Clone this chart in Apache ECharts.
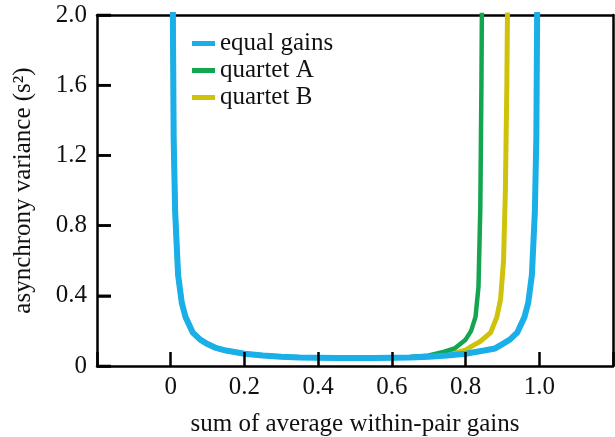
<!DOCTYPE html>
<html>
<head>
<meta charset="utf-8">
<script src="https://cdn.jsdelivr.net/npm/echarts@6/dist/echarts.min.js"></script>
<style>html,body{margin:0;padding:0;background:#fff}#c{width:615px;height:437px}</style>
</head>
<body>
<div id="c"></div>
<script>
// ---- data ----
const seriesNames = ['equal gains', 'quartet A', 'quartet B'];

const equalX = [0.004, 0.008, 0.012, 0.02, 0.03, 0.04, 0.06, 0.08, 0.1, 0.12, 0.15, 0.2, 0.25, 0.3, 0.35, 0.4, 0.45, 0.5, 0.55, 0.6, 0.65, 0.7, 0.75, 0.8, 0.85, 0.88, 0.9, 0.92, 0.94, 0.96, 0.97, 0.98, 0.988, 0.992, 0.996];
const equalY = [2.6, 1.3, 0.88, 0.52, 0.36, 0.28, 0.19, 0.15, 0.125, 0.105, 0.088, 0.07, 0.06, 0.053, 0.049, 0.047, 0.045, 0.045, 0.045, 0.047, 0.049, 0.053, 0.06, 0.07, 0.088, 0.1, 0.125, 0.15, 0.19, 0.28, 0.36, 0.52, 0.88, 1.3, 2.6];

const quartetAX = [0.004, 0.008, 0.012, 0.02, 0.03, 0.04, 0.06, 0.08, 0.1, 0.12, 0.15, 0.2, 0.25, 0.3, 0.35, 0.4, 0.45, 0.5, 0.55, 0.6, 0.65, 0.7, 0.74, 0.77, 0.8, 0.815, 0.827, 0.835, 0.84, 0.843, 0.846];
const quartetAY = [2.6, 1.3, 0.88, 0.52, 0.36, 0.28, 0.19, 0.15, 0.125, 0.105, 0.088, 0.07, 0.06, 0.053, 0.049, 0.047, 0.045, 0.045, 0.046, 0.048, 0.052, 0.06, 0.08, 0.1, 0.15, 0.2, 0.28, 0.45, 0.9, 1.6, 2.6];

const quartetBX = [0.004, 0.008, 0.012, 0.02, 0.03, 0.04, 0.06, 0.08, 0.1, 0.12, 0.15, 0.2, 0.25, 0.3, 0.35, 0.4, 0.45, 0.5, 0.55, 0.6, 0.65, 0.7, 0.75, 0.8, 0.815, 0.84, 0.868, 0.885, 0.895, 0.903, 0.908, 0.912, 0.916];
const quartetBY = [2.6, 1.3, 0.88, 0.52, 0.36, 0.28, 0.19, 0.15, 0.125, 0.105, 0.088, 0.07, 0.06, 0.053, 0.049, 0.047, 0.045, 0.045, 0.045, 0.047, 0.05, 0.055, 0.065, 0.09, 0.11, 0.14, 0.19, 0.28, 0.38, 0.6, 1.0, 1.6, 2.6];

const xTickValues = [0, 0.2, 0.4, 0.6, 0.8, 1.0];
const xTickLabels = ['0', '0.2', '0.4', '0.6', '0.8', '1.0'];
const yTickValues = [0, 0.4, 0.8, 1.2, 1.6, 2.0];
const yTickLabels = ['0', '0.4', '0.8', '1.2', '1.6', '2.0'];

const xName = 'sum of average within-pair gains';
const yName = 'asynchrony variance (s\u00B2)';

// ---- build ----
const X_MIN = -0.2, X_MAX = 1.2, Y_MIN = 0, Y_MAX = 2.0;
const pairs = (xs, ys) => xs.map((x, i) => [x, ys[i]]);
const font = 'Liberation Serif';
const colors = ['#1AAFE8', '#12A650', '#CEC20B'];
const labelFor = (vals, labels) => v => {
  const i = vals.findIndex(t => Math.abs(t - v) < 1e-9);
  return i < 0 ? '' : labels[i];
};
const borderAxis = {show: true, axisLine: {show: true, onZero: false, lineStyle: {color: '#000', width: 2.5}},
  axisTick: {show: false}, axisLabel: {show: false}, splitLine: {show: false}};
const tickStyle = {show: true, inside: true, length: 14, lineStyle: {color: '#000', width: 2.5}};

const chart = echarts.init(document.getElementById('c'), null, {renderer: 'canvas'});
chart.setOption({
  animation: false,
  backgroundColor: '#fff',
  grid: {left: 97, right: 2, top: 15, bottom: 71, show: false, containLabel: false, outerBoundsMode: 'none'},
  legend: {
    data: seriesNames,
    orient: 'vertical',
    left: 192, top: 31, padding: 0,
    icon: 'rect', itemWidth: 23, itemHeight: 5, itemGap: 2, itemTextGap: 11,
    textStyle: {fontFamily: font, fontSize: 25, color: '#111'}
  },
  xAxis: [{
    type: 'value', position: 'bottom', min: X_MIN, max: X_MAX, interval: 0.2, z: 10,
    name: xName, nameLocation: 'middle', nameGap: 46,
    nameTextStyle: {fontFamily: font, fontSize: 25, color: '#111'},
    axisLine: {show: true, onZero: false, lineStyle: {color: '#000', width: 2.5}},
    axisTick: tickStyle,
    axisLabel: {show: true, fontFamily: font, fontSize: 25, color: '#111', margin: 9,
      formatter: labelFor(xTickValues, xTickLabels)},
    splitLine: {show: false}
  }, Object.assign({type: 'value', position: 'top', min: X_MIN, max: X_MAX}, borderAxis)],
  yAxis: [{
    type: 'value', position: 'left', min: Y_MIN, max: Y_MAX, interval: 0.4, z: 10,
    name: yName, nameLocation: 'middle', nameGap: 61, nameRotate: 90,
    nameTextStyle: {fontFamily: font, fontSize: 25, color: '#111'},
    axisLine: {show: true, onZero: false, lineStyle: {color: '#000', width: 2.5}},
    axisTick: tickStyle,
    axisLabel: {show: true, fontFamily: font, fontSize: 25, color: '#111', margin: 10,
      formatter: labelFor(yTickValues, yTickLabels)},
    splitLine: {show: false}
  }, Object.assign({type: 'value', position: 'right', min: Y_MIN, max: Y_MAX}, borderAxis)],
  series: [
    {name: seriesNames[0], type: 'line', data: pairs(equalX, equalY), showSymbol: false, symbol: 'none', clip: true, z: 5,
      itemStyle: {color: colors[0]}, lineStyle: {color: colors[0], width: 6}},
    {name: seriesNames[1], type: 'line', data: pairs(quartetAX, quartetAY), showSymbol: false, symbol: 'none', clip: true, z: 4,
      itemStyle: {color: colors[1]}, lineStyle: {color: colors[1], width: 4.5}},
    {name: seriesNames[2], type: 'line', data: pairs(quartetBX, quartetBY), showSymbol: false, symbol: 'none', clip: true, z: 3,
      itemStyle: {color: colors[2]}, lineStyle: {color: colors[2], width: 5}},
    // inward y-axis tick marks, placed through the axis scale
    {name: 'yTicks', type: 'custom', silent: true, z: 20, clip: false,
      data: yTickValues.map(v => [X_MIN, v]),
      renderItem: (params, api) => {
        const p = api.coord([api.value(0), api.value(1)]);
        return {type: 'line', shape: {x1: p[0], y1: p[1], x2: p[0] + 14, y2: p[1]},
          style: {stroke: '#000', lineWidth: 2.5}};
      }}
  ]
});
</script>
</body>
</html>
